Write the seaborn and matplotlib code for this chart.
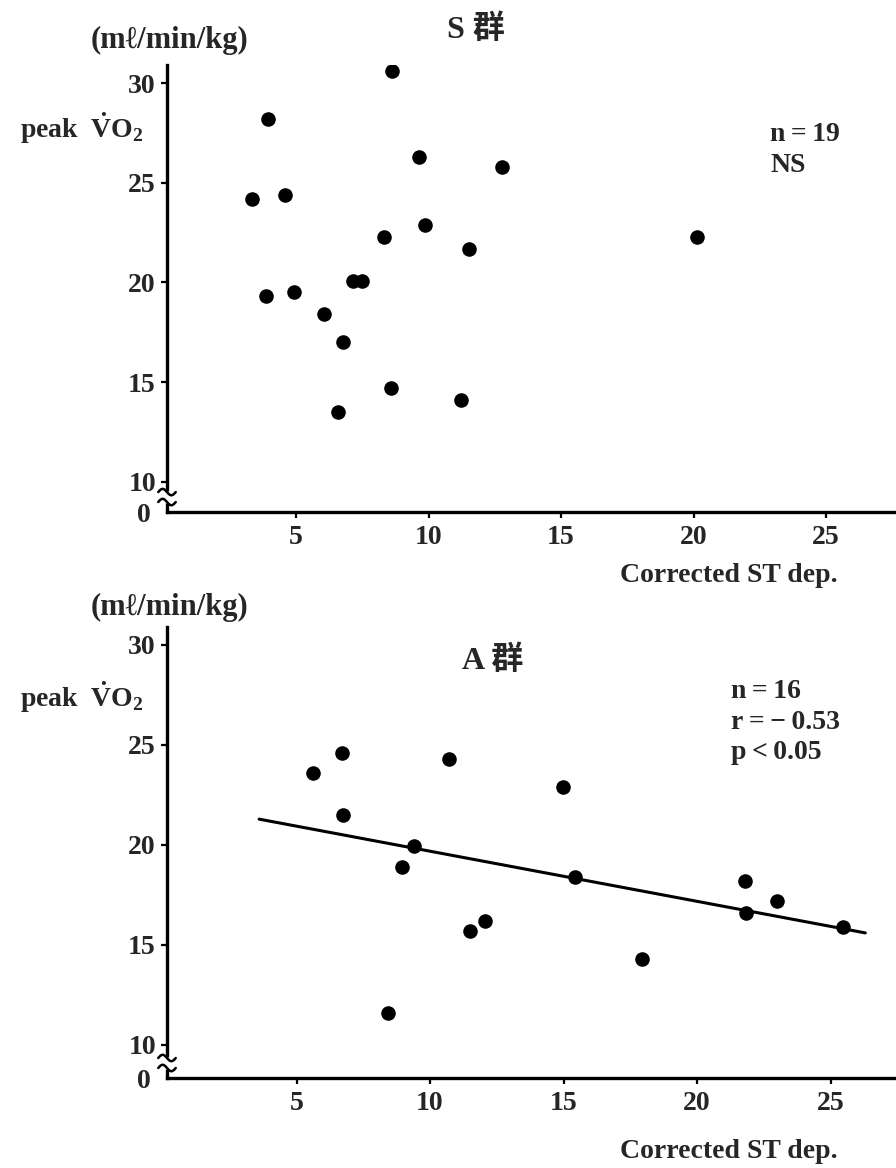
import numpy as np
import matplotlib
matplotlib.use("Agg")
import matplotlib.pyplot as plt
import matplotlib.transforms as mtransforms
import seaborn as sns
import pandas as pd

# S group: corrected ST depression vs peak VO2
s_st = [9.64, 8.62, 3.94, 3.34, 4.58, 12.77, 8.32, 9.87, 11.53, 20.13,
        7.15, 7.49, 3.87, 4.92, 6.06, 6.77, 8.58, 6.58, 11.23]
s_vo2 = [26.3, 30.6, 28.2, 24.2, 24.4, 25.8, 22.3, 22.9, 21.7, 22.3,
         20.05, 20.05, 19.3, 19.5, 18.4, 17.0, 14.7, 13.5, 14.1]

# A group
a_st = [5.62, 6.70, 6.74, 10.71, 14.98, 9.40, 8.95, 15.43, 11.50, 12.06,
        8.43, 17.94, 21.80, 21.84, 23.0, 25.47]
a_vo2 = [23.6, 24.6, 21.5, 24.3, 22.9, 19.95, 18.9, 18.4, 15.7, 16.2,
         11.6, 14.3, 18.2, 16.6, 17.2, 15.9]

x_ticks = [5, 10, 15, 20, 25]
y_ticks = [10, 15, 20, 25, 30]
titles = ["S 群", "A 群"]
stats = ["n\u2009=\u200919\nNS", "n\u2009=\u200916\nr\u2009=\u2009−\u20090.53\np\u2009<\u20090.05"]
unit_label = "(mℓ/min/kg)"
y_label = r"peak  $\dot{\mathrm{V}}\mathrm{O}_{2}$"
x_label = "Corrected ST dep."

sns.set_theme(style="ticks")
plt.rcParams["font.family"] = ["Liberation Serif", "Noto Sans CJK JP", "DejaVu Sans"]
plt.rcParams["font.weight"] = "bold"
plt.rcParams["mathtext.fontset"] = "custom"
plt.rcParams["mathtext.rm"] = "Liberation Serif:bold"
plt.rcParams["mathtext.it"] = "Liberation Serif:bold"
plt.rcParams["mathtext.bf"] = "Liberation Serif:bold"

FS = 20
fig = plt.figure(figsize=(8.96, 11.68), dpi=100)

panels = [
    dict(x=s_st, y=s_vo2, rect=[167/896, 1-512/1168, 1-167/896, (512-65)/1168],
         xlim=(0.13, 27.64), ylim=(8.48, 30.91), fit=False,
         title_xy=(476, 30), unit_y=40, vo2_y=128, stat_xy=(770, 122), xl_y=575),
    dict(x=a_st, y=a_vo2, rect=[167/896, 1-1078/1168, 1-167/896, (1078-627)/1168],
         xlim=(0.15, 27.45), ylim=(8.35, 30.9), fit=True,
         title_xy=(493, 661), unit_y=607, vo2_y=697, stat_xy=(731, 679), xl_y=1152),
]

for i, p in enumerate(panels):
    ax = fig.add_axes(p["rect"])
    df = pd.DataFrame({"st": p["x"], "vo2": p["y"]})
    sns.scatterplot(data=df, x="st", y="vo2", ax=ax, color="black", s=110,
                    edgecolor="black", linewidth=0, zorder=3)
    if p["fit"]:
        slope, intercept = np.polyfit(df["st"], df["vo2"], 1)
        xs = np.array([3.6, 26.3])
        sns.lineplot(x=xs, y=intercept + slope * xs, ax=ax, color="black",
                     linewidth=2.2, zorder=2)
    ax.set_xlim(*p["xlim"])
    ax.set_ylim(*p["ylim"])
    ax.set_xticks(x_ticks)
    ax.set_yticks(y_ticks)
    ax.set_xticklabels([str(t) for t in x_ticks], fontsize=FS, fontweight="bold")
    ax.set_yticklabels([str(t) for t in y_ticks], fontsize=FS, fontweight="bold")
    ax.set_xlabel("")
    ax.set_ylabel("")
    ax.tick_params(axis="both", direction="out", length=4, width=1.6,
                   color="black", pad=4)
    ax.tick_params(axis="x", pad=5)
    for side in ("top", "right"):
        ax.spines[side].set_visible(False)
    for side in ("left", "bottom"):
        ax.spines[side].set_linewidth(2.4)
        ax.spines[side].set_color("black")
    ax.patch.set_alpha(0)

    # axis break between 10 and 0 on the y axis
    blend = mtransforms.blended_transform_factory(ax.transAxes, ax.transData)
    y0 = p["ylim"][0]
    gap_lo, gap_hi = y0 + 0.45, y0 + 1.05
    ax.plot([0, 0], [gap_lo, gap_hi], color="white", lw=5, transform=blend,
            clip_on=False, zorder=5, solid_capstyle="butt")
    t = np.linspace(-0.012, 0.012, 40)
    for yc in (gap_lo + 0.05, gap_hi - 0.05):
        ax.plot(t, yc + 0.16 * np.sin((t + 0.012) / 0.024 * 2 * np.pi),
                color="black", lw=1.8, transform=blend, clip_on=False, zorder=6)
    ax.text(-0.022, y0 - 0.2, "0", transform=blend, ha="right", va="center",
            fontsize=FS, fontweight="bold")

    # titles and annotations in figure pixel positions
    fig.text(p["title_xy"][0] / 896, 1 - p["title_xy"][1] / 1168, titles[i],
             ha="center", va="center", fontsize=23, fontweight="bold")
    fig.text(169 / 896, 1 - p["unit_y"] / 1168, unit_label, ha="center",
             va="center", fontsize=22, fontweight="bold")
    fig.text(20 / 896, 1 - p["vo2_y"] / 1168, y_label, ha="left",
             va="center", fontsize=FS, fontweight="bold")
    fig.text(p["stat_xy"][0] / 896, 1 - p["stat_xy"][1] / 1168, stats[i],
             ha="left", va="top", fontsize=FS, fontweight="bold",
             linespacing=1.3)
    fig.text(838 / 896, 1 - p["xl_y"] / 1168, x_label, ha="right",
             va="center", fontsize=FS, fontweight="bold")

fig.savefig("out.png", dpi=100, facecolor="white")
